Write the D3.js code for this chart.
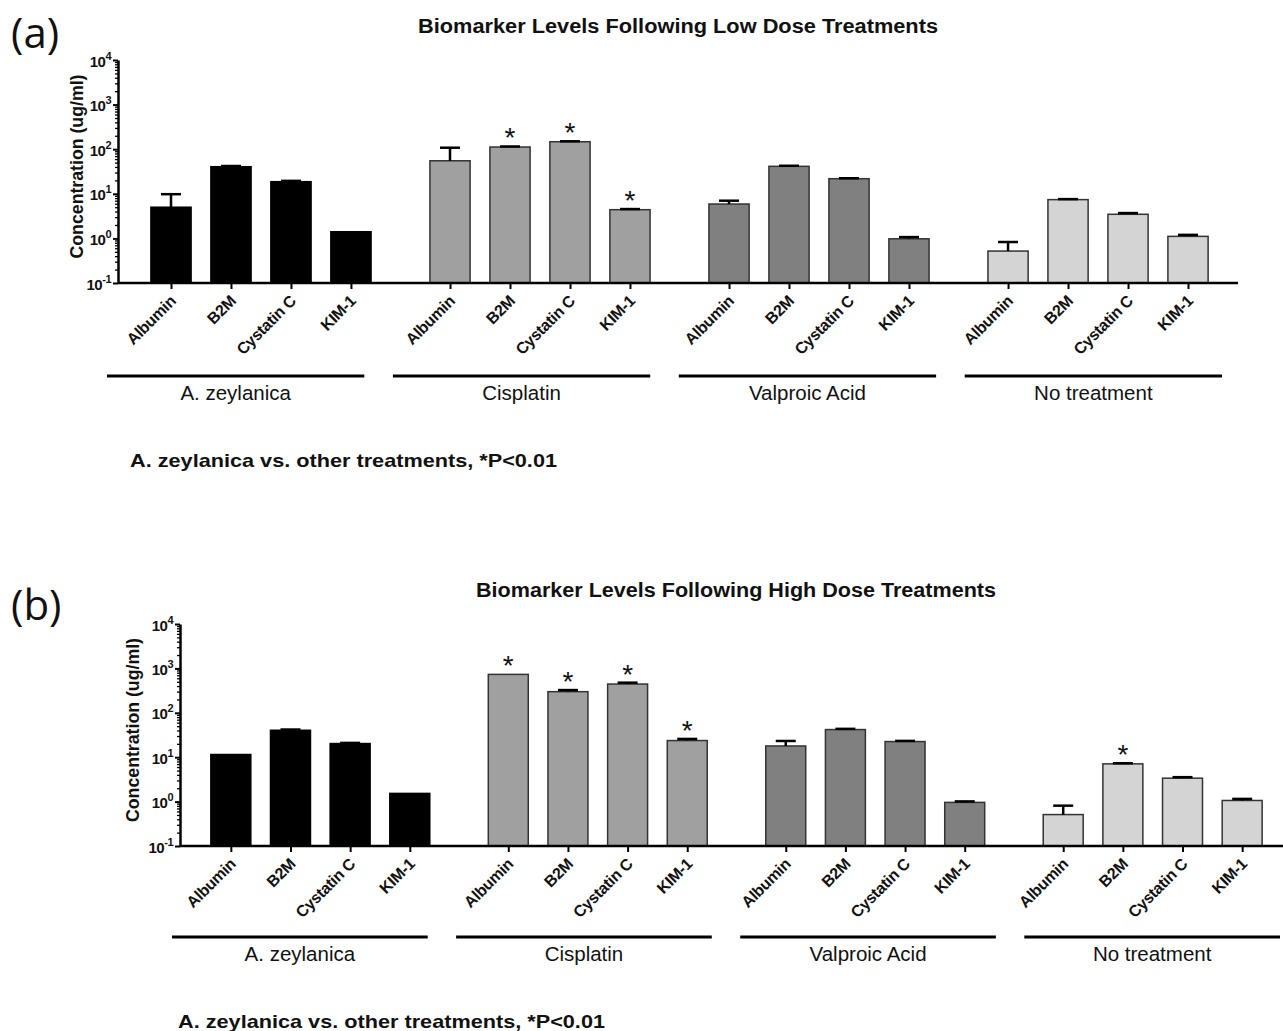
<!DOCTYPE html>
<html>
<head>
<meta charset="utf-8">
<script src="https://cdn.jsdelivr.net/npm/d3@7"></script>
<style>
  body { margin: 0; background: #fff; }
  text { font-family: "Liberation Sans", Arial, sans-serif; fill: #111; }
</style>
</head>
<body>
<script>
// ---- data ----
const groups = ["A. zeylanica", "Cisplatin", "Valproic Acid", "No treatment"];
const markers = ["Albumin", "B2M", "Cystatin C", "KIM-1"];
const groupFills = ["#000000", "#a0a0a0", "#808080", "#d4d4d4"];

// low dose: mean, error (upper), significance flag  [group][marker]
const lowMean = [[5.0, 40.5, 18.7, 1.41], [55, 112, 147, 4.4], [5.9, 41.3, 21.8, 0.98], [0.52, 7.4, 3.47, 1.11]];
const lowErr  = [[4.8, 1.5, 0.8, 0.0], [53, 3, 3.5, 0.15], [1.1, 1.2, 0.5, 0.09], [0.31, 0.2, 0.23, 0.09]];
const lowStar = [[0, 0, 0, 0], [0, 1, 1, 1], [0, 0, 0, 0], [0, 0, 0, 0]];

// high dose
const highMean = [[11.5, 40.4, 20.3, 1.53], [733, 299, 444, 23.7], [17.9, 41.9, 22.5, 0.96], [0.51, 7.08, 3.37, 1.06]];
const highErr  = [[0.0, 1.6, 0.7, 0.0], [0, 26, 33, 2.1], [5.3, 1.6, 0.8, 0.05], [0.3, 0.22, 0.18, 0.09]];
const highStar = [[0, 0, 0, 0], [1, 1, 1, 1], [0, 0, 0, 0], [0, 1, 0, 0]];

const yTickPowers = [-1, 0, 1, 2, 3, 4];
const yLabel = "Concentration (ug/ml)";
const footnote = "A. zeylanica vs. other treatments, *P<0.01";

const width = 1283, height = 1031;

const svg = d3.select("body").append("svg")
    .attr("width", width)
    .attr("height", height);

const panels = [
    {
        tag: "(a)", title: "Biomarker Levels Following Low Dose Treatments",
        mean: lowMean, err: lowErr, star: lowStar,
        tagY: 48, titleX: 678, titleY: 33,
        axisX: 118, top: 60, bottom: 283, axisEnd: 1238,
        bars: [141, 1218], brackets: [107, 1222], bracketY: 376,
        yLabelX: 76, noteX: 130, noteY: 467
    },
    {
        tag: "(b)", title: "Biomarker Levels Following High Dose Treatments",
        mean: highMean, err: highErr, star: highStar,
        tagY: 620, titleX: 736, titleY: 597,
        axisX: 180, top: 624, bottom: 846, axisEnd: 1290,
        bars: [201, 1272], brackets: [172, 1280], bracketY: 937,
        yLabelX: 132, noteX: 178, noteY: 1028
    }
];

let drawPanel = function (p) {
    const g = svg.append("g");

    const y = d3.scaleLog()
        .domain([Math.pow(10, yTickPowers[0]), Math.pow(10, yTickPowers[yTickPowers.length - 1])])
        .range([p.bottom, p.top]);

    const xGroup = d3.scaleBand()
        .domain(groups)
        .range(p.bars)
        .paddingInner(0.14);

    const xInner = d3.scaleBand()
        .domain(markers)
        .range([0, xGroup.bandwidth()])
        .paddingInner(0.33)
        .paddingOuter(0.165);

    const xBracket = d3.scaleBand()
        .domain(groups)
        .range(p.brackets)
        .paddingInner(0.1);

    const rows = groups.flatMap((grp, gi) => markers.map((m, mi) => ({
        grp: grp, m: m, gi: gi,
        key: grp + "|" + m,
        v: p.mean[gi][mi],
        e: p.err[gi][mi],
        s: p.star[gi][mi],
        cx: xGroup(grp) + xInner(m) + xInner.bandwidth() / 2
    })));

    // panel tag + title
    g.append("text")
        .attr("x", 11).attr("y", p.tagY)
        .style("font-family", "'Open Sans', sans-serif")
        .style("font-size", "42px")
        .text(p.tag);

    g.append("text")
        .attr("x", p.titleX).attr("y", p.titleY)
        .attr("text-anchor", "middle")
        .attr("textLength", 520).attr("lengthAdjust", "spacingAndGlyphs")
        .style("font-size", "20px").style("font-weight", "bold")
        .text(p.title);

    // bars
    g.selectAll(".bar")
        .data(rows)
        .enter()
        .append("rect")
        .attr("class", "bar")
        .attr("x", d => xGroup(d.grp) + xInner(d.m))
        .attr("y", d => y(d.v))
        .attr("width", xInner.bandwidth())
        .attr("height", d => p.bottom - y(d.v))
        .attr("fill", d => groupFills[d.gi])
        .attr("stroke", d => d.gi === 0 ? "#000" : "#333")
        .attr("stroke-width", 1.5);

    // error bars (upper only)
    const eb = g.selectAll(".err")
        .data(rows.filter(d => d.e > 0))
        .enter()
        .append("g")
        .attr("class", "err")
        .attr("stroke", "#000")
        .attr("stroke-width", 2.5);

    eb.append("line")
        .attr("x1", d => d.cx).attr("x2", d => d.cx)
        .attr("y1", d => y(d.v)).attr("y2", d => y(d.v + d.e));

    eb.append("line")
        .attr("x1", d => d.cx - 10).attr("x2", d => d.cx + 10)
        .attr("y1", d => y(d.v + d.e)).attr("y2", d => y(d.v + d.e));

    // significance stars
    g.selectAll(".star")
        .data(rows.filter(d => d.s))
        .enter()
        .append("text")
        .attr("class", "star")
        .attr("x", d => d.cx)
        .attr("y", d => y(d.v + d.e) + 1)
        .attr("text-anchor", "middle")
        .style("font-size", "28px")
        .text("*");

    // y axis: minor ticks, then major ticks with 10^n labels
    const majors = yTickPowers.map(e => Math.pow(10, e));
    const minors = y.ticks().filter(v => !majors.some(m => Math.abs(m - v) / m < 1e-9));

    g.append("g")
        .attr("transform", `translate(${p.axisX},0)`)
        .call(d3.axisLeft(y).tickValues(minors).tickSize(3).tickFormat(""))
        .call(s => s.select(".domain").remove())
        .selectAll(".tick line").attr("stroke-width", 1.3);

    const yAxis = g.append("g")
        .attr("transform", `translate(${p.axisX},0)`)
        .call(d3.axisLeft(y).tickValues(majors).tickSize(5).tickSizeOuter(0).tickFormat(""));

    yAxis.select(".domain").attr("stroke-width", 2.5);
    yAxis.selectAll(".tick line").attr("stroke-width", 2);
    yAxis.selectAll(".tick text").remove();

    const lab = yAxis.selectAll(".tick")
        .append("text")
        .attr("x", -7)
        .attr("y", 6)
        .attr("text-anchor", "end")
        .style("font-size", "15px")
        .style("font-weight", "bold")
        .style("letter-spacing", "-0.5px");
    lab.append("tspan").text("10");
    lab.append("tspan")
        .attr("dy", -7)
        .style("font-size", "11px")
        .text((d, i) => yTickPowers[i]);

    g.append("text")
        .attr("transform", `translate(${p.yLabelX + 7},${(p.top + p.bottom) / 2 - 5}) rotate(-90)`)
        .attr("text-anchor", "middle")
        .attr("textLength", 184).attr("lengthAdjust", "spacingAndGlyphs")
        .style("font-size", "19px").style("font-weight", "bold")
        .text(yLabel);

    // x axis: baseline + ticks at bar centres
    g.append("line")
        .attr("x1", p.axisX).attr("x2", p.axisEnd)
        .attr("y1", p.bottom).attr("y2", p.bottom)
        .attr("stroke", "#000").attr("stroke-width", 2.5);

    const xTicks = d3.scaleOrdinal()
        .domain(rows.map(d => d.key))
        .range(rows.map(d => d.cx));

    const xAxis = g.append("g")
        .attr("transform", `translate(0,${p.bottom})`)
        .call(d3.axisBottom(xTicks).tickSize(6).tickFormat(""));
    xAxis.select(".domain").remove();
    xAxis.selectAll(".tick line").attr("stroke-width", 2);
    xAxis.selectAll(".tick text").remove();

    g.selectAll(".xlab")
        .data(rows)
        .enter()
        .append("text")
        .attr("class", "xlab")
        .attr("transform", d => `translate(${d.cx + 6},${p.bottom + 19}) rotate(-45)`)
        .attr("text-anchor", "end")
        .style("font-size", "16px").style("font-weight", "bold")
        .style("letter-spacing", "-0.3px")
        .text(d => d.m);

    // group brackets
    g.selectAll(".bracket")
        .data(groups)
        .enter()
        .append("line")
        .attr("class", "bracket")
        .attr("x1", d => xBracket(d)).attr("x2", d => xBracket(d) + xBracket.bandwidth())
        .attr("y1", p.bracketY).attr("y2", p.bracketY)
        .attr("stroke", "#000").attr("stroke-width", 3);

    g.selectAll(".glab")
        .data(groups)
        .enter()
        .append("text")
        .attr("class", "glab")
        .attr("x", d => xBracket(d) + xBracket.bandwidth() / 2)
        .attr("y", p.bracketY + 24)
        .attr("text-anchor", "middle")
        .style("font-size", "20.5px")
        .text(d => d);

    g.append("text")
        .attr("x", p.noteX).attr("y", p.noteY)
        .attr("textLength", 427).attr("lengthAdjust", "spacingAndGlyphs")
        .style("font-size", "19px").style("font-weight", "bold")
        .text(footnote);
};

panels.forEach(drawPanel);
</script>
</body>
</html>
